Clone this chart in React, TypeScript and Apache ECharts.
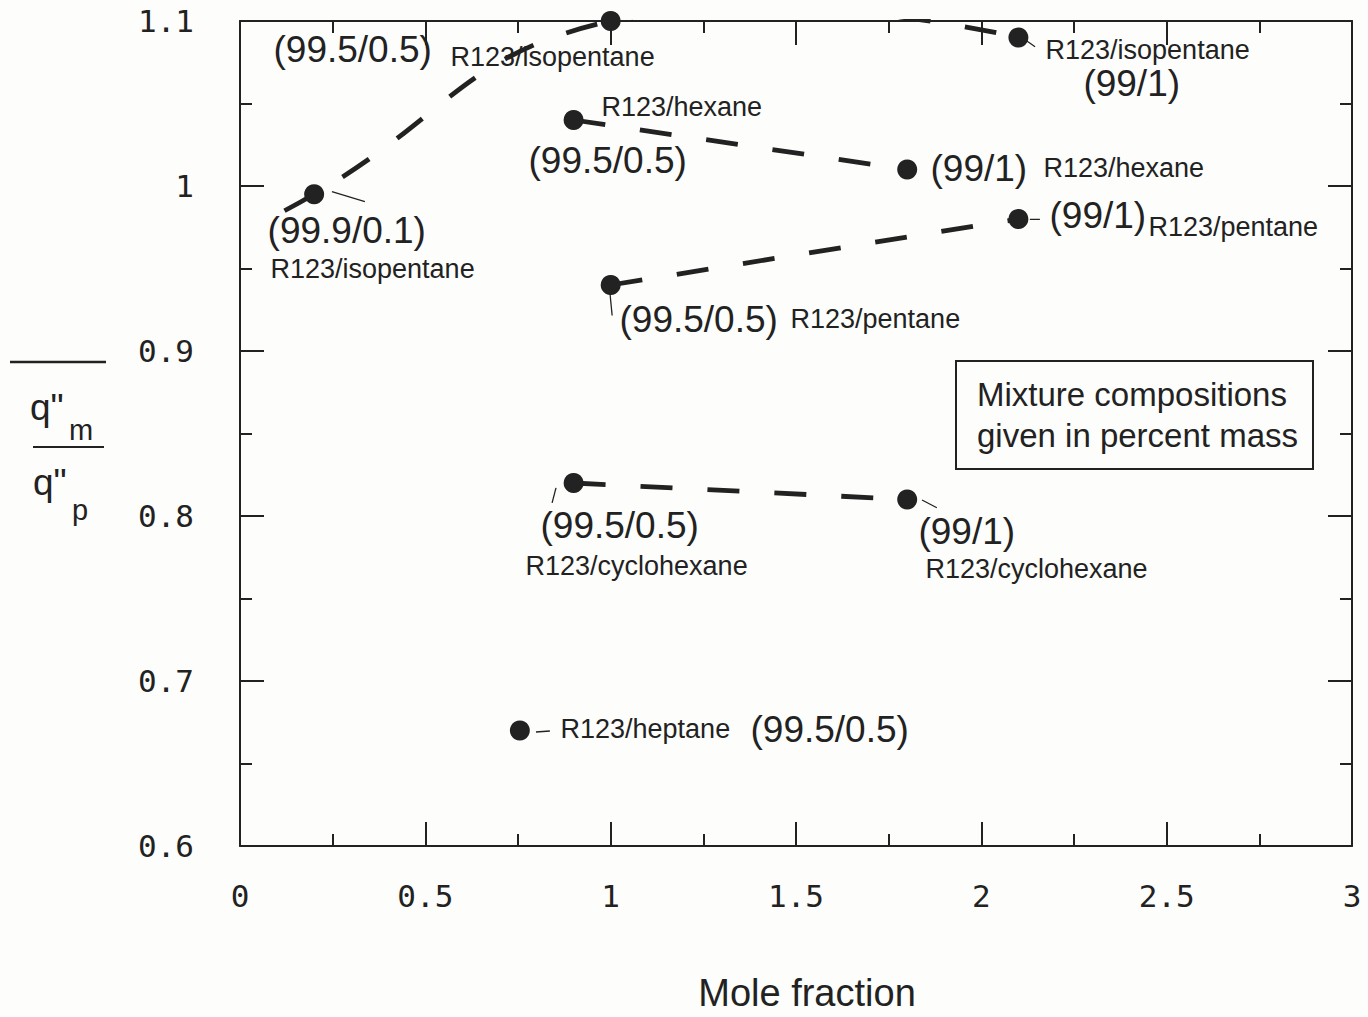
import React, { useEffect, useRef } from "react";
import * as echarts from "echarts";

// ---- data (x = mole fraction, y = q"m / q"p) ----
const isopentanePts: number[][] = [[0.2, 0.995], [1.0, 1.1], [2.1, 1.09]];
const isopentaneCurveStart: number[] = [0.12, 0.985];
const hexanePts: number[][] = [[0.9, 1.04], [1.8, 1.01]];
const pentanePts: number[][] = [[1.0, 0.94], [2.1, 0.98]];
const cyclohexanePts: number[][] = [[0.9, 0.82], [1.8, 0.81]];
const heptanePts: number[][] = [[0.755, 0.67]];

const xMin = 0, xMax = 3, xStep = 0.5;
const yMin = 0.6, yMax = 1.1, yStep = 0.1;

// composition annotations (anchored at left edge, vertical middle)
const compX = [0.089, 2.274, 0.073, 0.777, 1.8615, 2.1825, 1.0225, 0.8093, 1.829, 1.3759];
const compY = [1.0826, 1.0621, 0.9732, 1.0153, 1.0105, 0.9822, 0.9191, 0.7941, 0.7905, 0.6709];
const compText = ["(99.5/0.5)", "(99/1)", "(99.9/0.1)", "(99.5/0.5)", "(99/1)", "(99/1)", "(99.5/0.5)", "(99.5/0.5)", "(99/1)", "(99.5/0.5)"];

// mixture name annotations
const nameX = [0.5665, 2.1718, 0.9739, 2.1663, 0.0809, 2.4496, 1.4838, 0.7689, 1.848, 0.8633];
const nameY = [1.0784, 1.0826, 1.0477, 1.0111, 0.9498, 0.975, 0.9191, 0.7695, 0.7677, 0.6709];
const nameText = ["R123/isopentane", "R123/isopentane", "R123/hexane", "R123/hexane", "R123/isopentane", "R123/pentane", "R123/pentane", "R123/cyclohexane", "R123/cyclohexane", "R123/heptane"];

// thin leader lines from points to labels
const leaders: number[][][] = [
  [[0.248, 0.9966], [0.337, 0.9906]],
  [[2.118, 1.0886], [2.145, 1.0844]],
  [[0.998, 0.9353], [1.004, 0.9215]],
  [[2.131, 0.9798], [2.158, 0.9798]],
  [[0.8525, 0.817], [0.842, 0.808]],
  [[1.84, 0.8097], [1.88, 0.805]],
  [[0.7985, 0.6691], [0.836, 0.6697]],
];

const yTitleTop = 'q"';
const yTitleSubTop = "m";
const yTitleBottom = 'q"';
const yTitleSubBottom = "p";
const xTitle = "Mole fraction";
const noteLines = ["Mixture compositions", "given in percent mass"];

const INK = "#222222";
const BG = "#fdfdfb";
const SANS = '"Liberation Sans", Arial, Helvetica, sans-serif';
const MONO = '"DejaVu Sans Mono", monospace';

export default function App() {
  const ref = useRef<HTMLDivElement>(null);
  useEffect(() => {
    if (!ref.current) return;
    const chart = echarts.init(ref.current, undefined, { renderer: "svg" });

    const axisCommon = {
      type: "value" as const,
      axisLine: { show: true, onZero: false, lineStyle: { color: INK, width: 2 } },
      axisTick: { show: true, inside: true, length: 24, lineStyle: { color: INK, width: 2 } },
      minorTick: { show: true, splitNumber: 2, length: 12, lineStyle: { color: INK, width: 2 } },
      splitLine: { show: false },
      minorSplitLine: { show: false },
    };

    const dashed = { color: INK, width: 4.8, type: [32, 35] as any, opacity: 1 };

    const labelSeries = (texts: string[], xs: number[], ys: number[], size: number) => ({
      type: "scatter",
      data: texts.map((t, i) => ({ value: [xs[i], ys[i]], name: t })),
      symbolSize: 1,
      clip: false,
      silent: true,
      itemStyle: { color: "rgba(0,0,0,0)", opacity: 1 },
      label: {
        show: true,
        position: "right",
        distance: 0,
        formatter: "{b}",
        fontFamily: SANS,
        fontSize: size,
        color: INK,
        opacity: 1,
      },
      z: 4,
    });

    const series: any[] = [
      {
        type: "custom",
        data: [isopentaneCurveStart],
        silent: true,
        z: 2,
        renderItem: (params: any, api: any) => {
          const pts = [isopentaneCurveStart, ...isopentanePts].map((p) => api.coord(p));
          const cs = params.coordSys;
          return {
            type: "polyline",
            shape: { points: pts, smooth: 0.46 },
            style: { stroke: INK, fill: "none", lineWidth: 4.8, lineDash: [32, 35] },
            clipPath: { type: "rect", shape: { x: cs.x, y: cs.y - 2, width: cs.width, height: cs.height + 2 } },
          };
        },
      },
      { type: "line", data: hexanePts, showSymbol: false, silent: true, lineStyle: dashed, z: 2 },
      { type: "line", data: pentanePts, showSymbol: false, silent: true, lineStyle: dashed, z: 2 },
      { type: "line", data: cyclohexanePts, showSymbol: false, silent: true, lineStyle: dashed, z: 2 },
      ...leaders.map((l) => ({
        type: "line",
        data: l,
        showSymbol: false,
        silent: true,
        lineStyle: { color: INK, width: 1.3 },
        z: 2,
      })),
      {
        type: "scatter",
        data: [...isopentanePts, ...hexanePts, ...pentanePts, ...cyclohexanePts, ...heptanePts],
        symbolSize: 20,
        clip: false,
        silent: true,
        itemStyle: { color: INK, opacity: 1 },
        z: 3,
      },
      labelSeries(compText, compX, compY, 37),
      labelSeries(nameText, nameX, nameY, 27),
    ];

    chart.setOption({
      animation: false,
      backgroundColor: BG,
      grid: { left: 240, right: 16, top: 21, bottom: 164, containLabel: false },
      xAxis: [
        {
          ...axisCommon,
          position: "bottom",
          min: xMin,
          max: xMax,
          interval: xStep,
          axisLabel: { show: true, margin: 34, fontFamily: MONO, fontSize: 31, color: INK },
          name: xTitle,
          nameLocation: "middle",
          nameGap: 128,
          nameTextStyle: { fontFamily: SANS, fontSize: 38, color: INK, padding: [0, 0, 0, 22] },
        },
        {
          ...axisCommon,
          position: "top",
          min: xMin,
          max: xMax,
          interval: xStep,
          axisLabel: { show: false },
        },
      ],
      yAxis: [
        {
          ...axisCommon,
          position: "left",
          min: yMin,
          max: yMax,
          interval: yStep,
          axisLabel: { show: true, margin: 46, fontFamily: MONO, fontSize: 31, color: INK },
        },
        {
          ...axisCommon,
          position: "right",
          min: yMin,
          max: yMax,
          interval: yStep,
          axisLabel: { show: false },
        },
      ],
      graphic: [
        { type: "line", shape: { x1: 10, y1: 362, x2: 106, y2: 362 }, style: { stroke: INK, lineWidth: 2.5 } },
        { type: "text", x: 30, y: 407, style: { text: yTitleTop, font: `37px ${SANS}`, fill: INK, textVerticalAlign: "middle" } },
        { type: "text", x: 69, y: 430, style: { text: yTitleSubTop, font: `29px ${SANS}`, fill: INK, textVerticalAlign: "middle" } },
        { type: "line", shape: { x1: 33, y1: 447, x2: 104, y2: 447 }, style: { stroke: INK, lineWidth: 2 } },
        { type: "text", x: 33, y: 482, style: { text: yTitleBottom, font: `37px ${SANS}`, fill: INK, textVerticalAlign: "middle" } },
        { type: "text", x: 72, y: 510, style: { text: yTitleSubBottom, font: `29px ${SANS}`, fill: INK, textVerticalAlign: "middle" } },
        {
          type: "rect",
          shape: { x: 956, y: 361, width: 357, height: 108 },
          style: { fill: BG, stroke: INK, lineWidth: 2 },
          z: 10,
        },
        { type: "text", x: 977, y: 394, z: 11, style: { text: noteLines[0], font: `33px ${SANS}`, fill: INK, textVerticalAlign: "middle" } },
        { type: "text", x: 977, y: 435, z: 11, style: { text: noteLines[1], font: `33px ${SANS}`, fill: INK, textVerticalAlign: "middle" } },
      ],
      series,
    });

    return () => chart.dispose();
  }, []);

  return (
    <div
      ref={ref}
      style={{ position: "absolute", left: 0, top: 0, width: 1368, height: 1017, background: BG }}
    />
  );
}
